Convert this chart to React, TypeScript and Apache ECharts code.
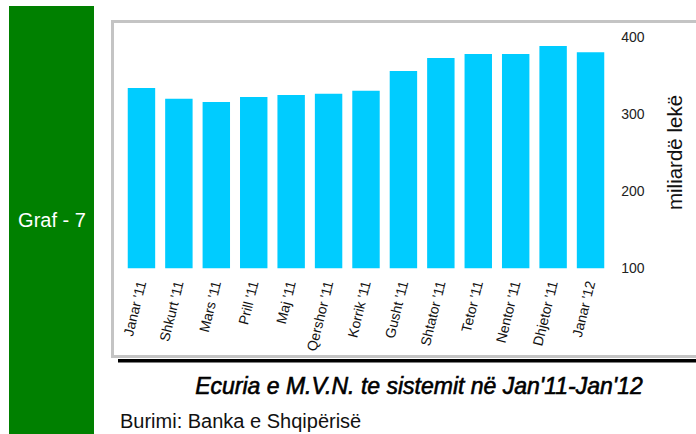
import React, { useEffect, useRef } from "react";
import * as echarts from "echarts";

const categories = [
  "Janar '11", "Shkurt '11", "Mars '11", "Prill '11", "Maj '11", "Qershor '11",
  "Korrik '11", "Gusht '11", "Shtator '11", "Tetor '11", "Nentor '11", "Dhjetor '11", "Janar '12",
];
const values = [333.5, 319.5, 315.5, 322, 324.5, 326, 330, 355.5, 372.5, 377.5, 377.5, 388, 380];
const yTicks = { min: 100, max: 400, interval: 100 };
const yAxisName = "miliardë lekë";
const titleText = "Ecuria e M.V.N. te sistemit në Jan'11-Jan'12";
const sourceText = "Burimi: Banka e Shqipërisë";
const sideLabel = "Graf - 7";

export default function App() {
  const ref = useRef<HTMLDivElement>(null);
  useEffect(() => {
    if (!ref.current) return;
    const chart = echarts.init(ref.current, null, { renderer: "svg" });
    const font = "'Liberation Sans', Arial, sans-serif";
    chart.setOption({
      animation: false,
      textStyle: { fontFamily: font },
      graphic: [
        { type: "rect", shape: { x: 9, y: 6, width: 85, height: 428 }, style: { fill: "#008000" }, z: 0 },
        {
          type: "text", x: 52, y: 220,
          style: { text: sideLabel, fill: "#ffffff", font: `20px ${font}`, textAlign: "center", textVerticalAlign: "middle" },
        },
        {
          type: "rect", shape: { x: 112.5, y: 21.5, width: 620, height: 335 },
          style: { fill: "none", stroke: "#c4c4c4", lineWidth: 3 }, z: -1,
        },
        { type: "rect", shape: { x: 118, y: 359, width: 578, height: 3.5 }, style: { fill: "#000000" } },
        {
          type: "text", x: 419, y: 386,
          style: {
            text: titleText, fill: "#000000", stroke: "#000000", lineWidth: 0.6,
            font: `italic 23px ${font}`, textAlign: "center", textVerticalAlign: "middle",
          },
        },
        {
          type: "text", x: 120, y: 421,
          style: { text: sourceText, fill: "#111111", font: `20px ${font}`, textAlign: "left", textVerticalAlign: "middle" },
        },
      ],
      grid: { left: 122.75, right: 86.75, top: 36.7, bottom: 165.7, containLabel: false },
      xAxis: {
        type: "category",
        data: categories,
        axisLine: { show: false },
        axisTick: { show: false },
        axisLabel: { rotate: 76, fontSize: 14, color: "#111", margin: 13, interval: 0 },
      },
      yAxis: {
        type: "value",
        position: "right",
        min: yTicks.min,
        max: yTicks.max,
        interval: yTicks.interval,
        splitLine: { show: false },
        axisLine: { show: false },
        axisTick: { show: false },
        axisLabel: { fontSize: 14, color: "#222", margin: 12 },
        name: yAxisName,
        nameLocation: "middle",
        nameRotate: 90,
        nameGap: 55,
        nameTextStyle: { fontSize: 20.5, color: "#111" },
      },
      series: [
        {
          type: "bar",
          data: values,
          barCategoryGap: "26.7%",
          itemStyle: { color: "#00CCFF" },
        },
      ],
    });
    return () => chart.dispose();
  }, []);
  return (
    <div style={{ position: "fixed", left: 0, top: 0, width: 696, height: 434, background: "#fff" }}>
      <div ref={ref} style={{ width: 696, height: 434 }} />
    </div>
  );
}
